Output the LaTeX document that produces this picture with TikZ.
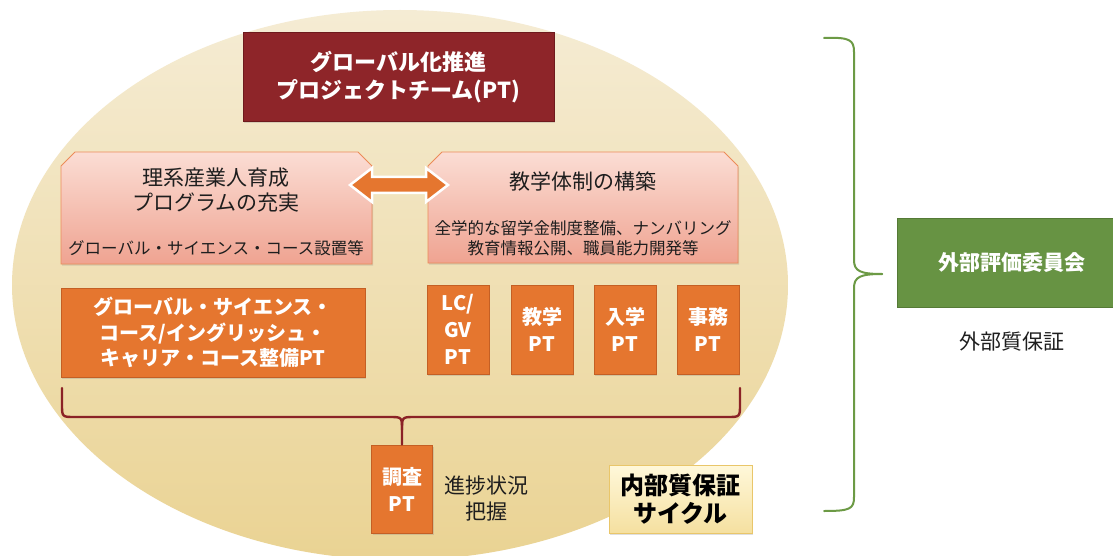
\documentclass[tikz,border=0pt]{standalone}
\usepackage{fontspec}
\setmainfont{Noto Sans CJK JP}
\usetikzlibrary{shadows}
\definecolor{redF}{HTML}{8E2529}
\definecolor{redB}{HTML}{6E1A1D}
\definecolor{orF}{HTML}{E5762F}
\definecolor{orB}{HTML}{C45F24}
\definecolor{pinkTop}{HTML}{FBDDD4}
\definecolor{pinkBot}{HTML}{EFA391}
\definecolor{pinkB}{HTML}{EC8B58}
\definecolor{grF}{HTML}{679343}
\definecolor{grB}{HTML}{557A36}
\definecolor{goldTop}{HTML}{FFF8DA}
\definecolor{goldBot}{HTML}{F5E0A0}
\definecolor{goldB}{HTML}{E9C66A}
\definecolor{braceRed}{HTML}{8B2226}
\definecolor{braceGr}{HTML}{6C9A45}
\definecolor{ellTop}{HTML}{F5ECD4}
\definecolor{ellMid}{HTML}{F0E0B3}
\definecolor{ellBot}{HTML}{EAD393}
\definecolor{txt}{HTML}{1E1E1E}
\begin{document}
\begin{tikzpicture}[x=1pt,y=-1pt,
  shadowed/.style={drop shadow={opacity=0.25,shadow xshift=1.2pt,shadow yshift=-1.5pt}},
  redbox/.style={draw=redB,fill=redF,line width=1pt,text=white,align=center,inner sep=0pt,
    font=\bfseries\fontsize{22}{28}\selectfont,shadowed},
  orbox/.style={draw=orB,fill=orF,line width=1pt,text=white,align=center,inner sep=0pt,
    font=\bfseries\fontsize{20}{25.5}\selectfont,shadowed},
  smallbox/.style={orbox,minimum width=62pt,minimum height=89pt,font=\bfseries\fontsize{20}{27}\selectfont},
  pinkshape/.style={top color=pinkTop,bottom color=pinkBot,draw=pinkB,line width=0.9pt,shadowed},
  pinktitle/.style={text=txt,align=center,inner sep=0pt,font=\fontsize{21}{25}\selectfont},
  pinknote/.style={text=txt,align=center,inner sep=0pt,font=\fontsize{16.5}{20}\selectfont},
  plain/.style={text=txt,align=center,inner sep=0pt,font=\fontsize{21}{26}\selectfont},
  goldbox/.style={top color=goldTop,bottom color=goldBot,draw=goldB,line width=1pt,text=black,
    align=center,inner sep=0pt,font=\bfseries\fontsize{24}{28}\selectfont,shadowed},
  greenbox/.style={draw=grB,fill=grF,line width=1pt,text=white,align=center,inner sep=0pt,
    font=\bfseries\fontsize{21}{26}\selectfont},
  redbrace/.style={draw=braceRed,line width=2.4pt,line join=round,line cap=round},
  greenbrace/.style={draw=braceGr,line width=2pt,line join=round,line cap=round},
  dblarrow/.style={fill=orF,draw=white,line width=2.5pt,line join=miter}
]
\useasboundingbox (0,0) rectangle (1113,556);
\fill[white] (0,0) rectangle (1113,556);
\begin{scope}
\clip (0,0) rectangle (1113,556);
% background ellipse
\shade[top color=ellTop,middle color=ellMid,bottom color=ellBot]
  (400,285) ellipse [x radius=388pt,y radius=275pt];

% top team box
\node[redbox,minimum width=311pt,minimum height=89pt] (gpt) at (398.5,77.5)
  {グローバル化推進\\プロジェクトチーム(PT)};

% pink boxes
\shade[pinkshape] (61,166) -- (75,152) -- (358,152) -- (372,166) -- (372,264) -- (61,264) -- cycle;
\node[pinktitle] (rikei) at (216,190.5) {理系産業人育成\\プログラムの充実};
\node[pinknote] (rikeinote) at (216,248) {グローバル・サイエンス・コース設置等};

\shade[pinkshape] (428,166) -- (442,152) -- (724,152) -- (738,166) -- (738,263) -- (428,263) -- cycle;
\node[pinktitle] (kyogaku) at (583,181) {教学体制の構築};
\node[pinknote] (kyogakunote) at (583,238) {全学的な留学金制度整備、ナンバリング\\教育情報公開、職員能力開発等};

% double arrow
\path[dblarrow] (350,185) -- (372,168) -- (372,177) -- (426,177) -- (426,168) -- (448,185)
  -- (426,202) -- (426,193) -- (372,193) -- (372,202) -- cycle;

% orange PT boxes
\node[orbox,minimum width=304pt,minimum height=89pt] (gsc) at (213,332.5)
  {グローバル・サイエンス・\\コース/イングリッシュ・\\キャリア・コース整備PT};
\node[smallbox] (lcgv) at (458,329.5) {LC/\\GV\\PT};
\node[smallbox] (kyo) at (542,329.5) {教学\\PT};
\node[smallbox] (nyu) at (625,329.5) {入学\\PT};
\node[smallbox] (jimu) at (708,329.5) {事務\\PT};

% survey PT
\node[orbox,minimum width=61pt,minimum height=88pt,font=\bfseries\fontsize{20}{27}\selectfont]
  (chosa) at (402,489) {調査\\PT};
\node[plain] (shinchoku) at (486,499) {進捗状況\\把握};

% red brace
\coordinate (bL) at (62,388);
\coordinate (bR) at (740,388);
\draw[redbrace] (bL) -- (62,404) .. controls (62,417) .. (75,417) -- (389,417)
  .. controls (402,417) .. (402,430) -- (chosa.north);
\draw[redbrace] (bR) -- (740,404) .. controls (740,417) .. (727,417) -- (415,417)
  .. controls (402,417) .. (402,430);

% internal QA box
\node[goldbox,minimum width=143pt,minimum height=68pt] (naibu) at (680.5,499)
  {内部質保証\\サイクル};

% green brace
\coordinate (gT) at (824,38);
\coordinate (gB) at (824,511);
\coordinate (gTip) at (882,274);
\draw[greenbrace] (gT) .. controls (850,37) and (854,40) .. (854,52) -- (854,260)
  .. controls (854,271) and (860,274) .. (gTip);
\draw[greenbrace] (gTip) .. controls (860,274) and (854,277) .. (854,288) -- (854,497)
  .. controls (854,509) and (850,511) .. (gB);

% external committee
\node[greenbox,minimum width=230pt,minimum height=89pt] (gaibu) at (1012,262.5) {外部評価委員会};
\node[plain] (gaibuqa) at (1012,342) {外部質保証};
\end{scope}
\end{tikzpicture}
\end{document}
